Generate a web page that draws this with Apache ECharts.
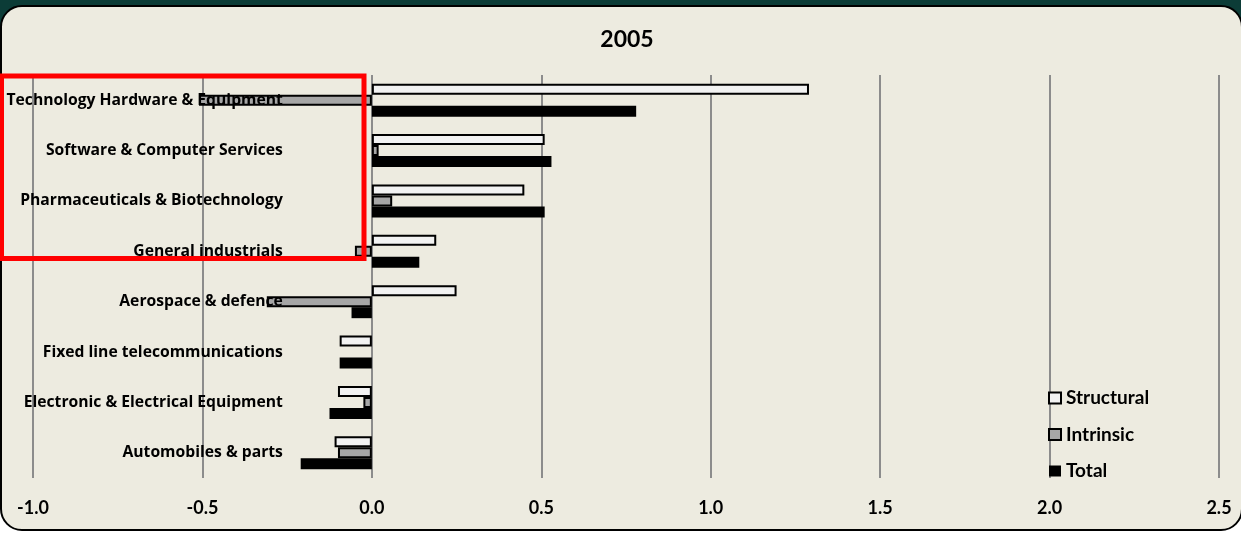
<!DOCTYPE html>
<html>
<head>
<meta charset="utf-8">
<script src="https://cdn.jsdelivr.net/npm/echarts@6/dist/echarts.min.js"></script>
<style>
  html, body { margin: 0; padding: 0; background: #ffffff; }
  #wrap { position: relative; width: 1241px; height: 534px; overflow: hidden; background: #ffffff; }
  #band { position: absolute; left: 0; top: 0; width: 1241px; height: 30px; background: #0c3c37; }
  #panel { position: absolute; left: 0; top: 5px; width: 1243px; height: 526px; box-sizing: border-box;
           border: 2px solid #000; border-radius: 22px; background: #edebe0; }
  #chart { position: absolute; left: 0; top: 0; width: 1241px; height: 534px; }
</style>
</head>
<body>
<div id="wrap">
  <div id="band"></div>
  <div id="panel"></div>
  <div id="chart"></div>
</div>
<script>
// Sectors, listed top to bottom
const categories = [
  'Technology Hardware & Equipment',
  'Software & Computer Services',
  'Pharmaceuticals & Biotechnology',
  'General industrials',
  'Aerospace & defence',
  'Fixed line telecommunications',
  'Electronic & Electrical Equipment',
  'Automobiles & parts'
];

// Contributions by component (2005)
const structural = [1.29, 0.51, 0.45, 0.19, 0.25, -0.095, -0.10, -0.11];
const intrinsic  = [-0.51, 0.02, 0.06, -0.05, -0.31, 0, -0.025, -0.10];
const total      = [0.78, 0.53, 0.51, 0.14, -0.06, -0.095, -0.125, -0.21];

const xTicks = { min: -1.0, max: 2.5, step: 0.5 };
const titleText = '2005';

const FONT = 'Lato, "Open Sans", sans-serif';
const CAT_FONT = '"Open Sans", Lato, sans-serif';

const GRID = { left: 33, right: 22, top: 75, bottom: 56 };
const PLOT_W = 1241 - GRID.left - GRID.right;
// pixel distance from the plot's left edge to the zero value
const ZERO_SHIFT = PLOT_W * (0 - xTicks.min) / (xTicks.max - xTicks.min);

function barData(values) {
  // a zero-length bar gets no outline
  return values.map(v => (v === 0 ? { value: v, itemStyle: { borderWidth: 0 } } : v));
}

const chart = echarts.init(document.getElementById('chart'), null, { renderer: 'canvas' });

chart.setOption({
  backgroundColor: 'transparent',
  animation: false,
  title: {
    text: titleText,
    left: 622,
    top: 23,
    textAlign: 'center',
    textStyle: { fontFamily: FONT, fontWeight: 'bold', fontSize: 23, color: '#000' }
  },
  legend: {
    orient: 'vertical',
    left: 1043,
    top: 383,
    itemWidth: 12,
    itemHeight: 11,
    itemGap: 16.5,
    icon: 'rect',
    textStyle: { fontFamily: FONT, fontWeight: 'bold', fontSize: 19, color: '#000', lineHeight: 20 },
    data: ['Structural', 'Intrinsic', 'Total']
  },
  grid: Object.assign({ containLabel: false, outerBoundsMode: 'none' }, GRID),
  xAxis: {
    type: 'value',
    min: xTicks.min,
    max: xTicks.max,
    interval: xTicks.step,
    axisLine: { show: false },
    axisTick: { show: false },
    splitLine: { show: true, lineStyle: { color: '#8c8c8c', width: 2 } },
    axisLabel: {
      margin: 21,
      fontFamily: FONT, fontWeight: 'bold', fontSize: 18, color: '#000',
      formatter: v => v.toFixed(1)
    }
  },
  yAxis: {
    type: 'category',
    inverse: true,
    data: categories,
    z: 5,
    position: 'left',
    offset: -ZERO_SHIFT,
    axisLine: { show: false, onZero: false },
    axisTick: { show: false },
    splitLine: { show: false },
    axisLabel: {
      show: true,
      margin: 89,
      hideOverlap: false,
      fontFamily: CAT_FONT, fontWeight: 'bold', fontSize: 15.7, color: '#000'
    }
  },
  series: [
    {
      name: 'Structural', type: 'bar', data: barData(structural),
      barWidth: 11, barGap: '0%',
      itemStyle: { color: '#f2f2f2', borderColor: '#000', borderWidth: 2 }
    },
    {
      name: 'Intrinsic', type: 'bar', data: barData(intrinsic),
      barWidth: 11, barGap: '0%',
      itemStyle: { color: '#a6a6a6', borderColor: '#000', borderWidth: 2 }
    },
    {
      name: 'Total', type: 'bar', data: barData(total),
      barWidth: 11, barGap: '0%',
      itemStyle: { color: '#000', borderColor: '#000', borderWidth: 0 }
    }
  ],
  graphic: [
    {
      type: 'rect',
      z: 100,
      shape: { x: 1.5, y: 76, width: 362.5, height: 182.5 },
      style: { fill: 'none', stroke: '#ff0000', lineWidth: 5 }
    }
  ]
});
</script>
</body>
</html>
